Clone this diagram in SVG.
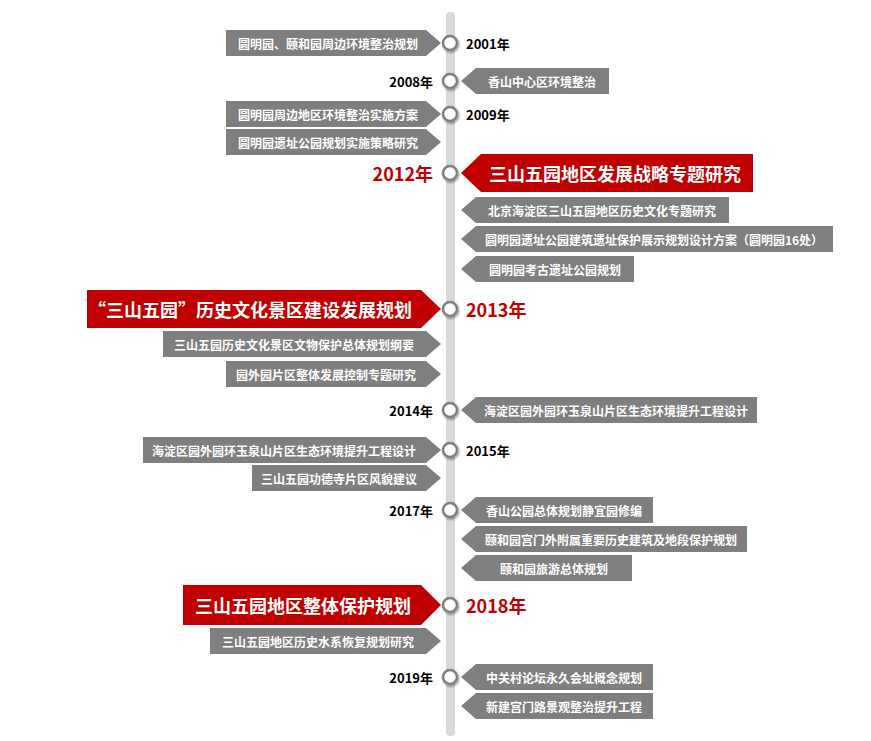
<svg xmlns="http://www.w3.org/2000/svg" width="871" height="741" viewBox="0 0 871 741">
<style>
.g{fill:#7f7f7f}.r{fill:#c00000}
.t{font-family:"Noto Sans CJK SC",sans-serif;font-weight:bold;font-size:12px;fill:#fff;text-anchor:middle;dominant-baseline:central}
.tb{font-family:"Noto Sans CJK SC",sans-serif;font-weight:bold;font-size:18px;fill:#fff;text-anchor:middle;dominant-baseline:central}
.y{font-family:"Noto Sans CJK SC",sans-serif;font-weight:bold;font-size:13px;fill:#000;dominant-baseline:central}
.yr{font-family:"Noto Sans CJK SC",sans-serif;font-weight:bold;font-size:18px;fill:#c00000;dominant-baseline:central}
.c{fill:#fff;stroke:#7f7f7f;stroke-width:2.5}
</style>
<defs><filter id="s" x="-50%" y="-50%" width="200%" height="200%"><feDropShadow dx="1" dy="1.5" stdDeviation="1" flood-opacity="0.4"/></filter></defs>
<g id="axis"><rect x="446" y="12" width="9" height="724" rx="4" fill="#d9d9d9"/></g>
<g id="connectors"></g>
<g id="n2001"><path class="g" d="M226 30H426L441 43L426 56H226Z"/><text class="t" x="328" y="43">圆明园、颐和园周边环境整治规划</text><circle class="c" cx="450" cy="43" r="7" filter="url(#s)"/><text class="y" x="466" y="43">2001年</text></g>
<g id="n2008"><path class="g" d="M461 81L476 68H609V94H476Z"/><text class="t" x="542" y="81">香山中心区环境整治</text><circle class="c" cx="450" cy="81" r="7" filter="url(#s)"/><text class="y" x="433" y="81" text-anchor="end">2008年</text></g>
<g id="n2009"><path class="g" d="M226 101H426L441 114L426 127H226Z"/><text class="t" x="328" y="114">圆明园周边地区环境整治实施方案</text><circle class="c" cx="450" cy="114" r="7" filter="url(#s)"/><text class="y" x="466" y="114">2009年</text></g>
<g id="n2009b"><path class="g" d="M226 129H426L441 142L426 155H226Z"/><text class="t" x="328" y="142">圆明园遗址公园规划实施策略研究</text></g>
<g id="n2012"><path class="r" d="M461 173L481 154H753V192H481Z"/><text class="tb" x="615" y="173">三山五园地区发展战略专题研究</text><circle class="c" cx="450" cy="173" r="7" filter="url(#s)"/><text class="yr" x="433" y="173" text-anchor="end">2012年</text></g>
<g id="n2012a"><path class="g" d="M461 210L476 197H729V223H476Z"/><text class="t" x="602" y="210">北京海淀区三山五园地区历史文化专题研究</text></g>
<g id="n2012b"><path class="g" d="M461 239L476 226H833V252H476Z"/><text class="t" x="654" y="239">圆明园遗址公园建筑遗址保护展示规划设计方案（圆明园16处）</text></g>
<g id="n2012c"><path class="g" d="M461 269L476 256H634V282H476Z"/><text class="t" x="555" y="269">圆明园考古遗址公园规划</text></g>
<g id="n2013"><path class="r" d="M87 290H421L441 309L421 328H87Z"/><text class="tb" x="250" y="309">“三山五园”历史文化景区建设发展规划</text><circle class="c" cx="450" cy="309" r="7" filter="url(#s)"/><text class="yr" x="466" y="309">2013年</text></g>
<g id="n2013a"><path class="g" d="M163 331H426L441 344L426 357H163Z"/><text class="t" x="294" y="344">三山五园历史文化景区文物保护总体规划纲要</text></g>
<g id="n2013b"><path class="g" d="M226 361H426L441 374L426 387H226Z"/><text class="t" x="326" y="374">园外园片区整体发展控制专题研究</text></g>
<g id="n2014"><path class="g" d="M461 410L476 397H757V423H476Z"/><text class="t" x="616" y="410">海淀区园外园环玉泉山片区生态环境提升工程设计</text><circle class="c" cx="450" cy="410" r="7" filter="url(#s)"/><text class="y" x="433" y="410" text-anchor="end">2014年</text></g>
<g id="n2015"><path class="g" d="M143 437H426L441 450L426 463H143Z"/><text class="t" x="284" y="450">海淀区园外园环玉泉山片区生态环境提升工程设计</text><circle class="c" cx="450" cy="450" r="7" filter="url(#s)"/><text class="y" x="466" y="450">2015年</text></g>
<g id="n2015a"><path class="g" d="M252 465H426L441 478L426 491H252Z"/><text class="t" x="339" y="478">三山五园功德寺片区风貌建议</text></g>
<g id="n2017"><path class="g" d="M461 510L476 497H653V523H476Z"/><text class="t" x="564" y="510">香山公园总体规划静宜园修编</text><circle class="c" cx="450" cy="510" r="7" filter="url(#s)"/><text class="y" x="433" y="510" text-anchor="end">2017年</text></g>
<g id="n2017a"><path class="g" d="M461 539L476 526H747V552H476Z"/><text class="t" x="611" y="539">颐和园宫门外附属重要历史建筑及地段保护规划</text></g>
<g id="n2017b"><path class="g" d="M461 568L476 555H632V581H476Z"/><text class="t" x="554" y="568">颐和园旅游总体规划</text></g>
<g id="n2018"><path class="r" d="M183 585H421L441 605L421 625H183Z"/><text class="tb" x="303" y="605">三山五园地区整体保护规划</text><circle class="c" cx="450" cy="605" r="7" filter="url(#s)"/><text class="yr" x="466" y="605">2018年</text></g>
<g id="n2018a"><path class="g" d="M210 628H426L441 641L426 654H210Z"/><text class="t" x="318" y="641">三山五园地区历史水系恢复规划研究</text></g>
<g id="n2019"><path class="g" d="M461 677L476 664H653V690H476Z"/><text class="t" x="564" y="677">中关村论坛永久会址概念规划</text><circle class="c" cx="450" cy="677" r="7" filter="url(#s)"/><text class="y" x="433" y="677" text-anchor="end">2019年</text></g>
<g id="n2019a"><path class="g" d="M461 706L476 693H653V719H476Z"/><text class="t" x="564" y="706">新建宫门路景观整治提升工程</text></g>
</svg>
